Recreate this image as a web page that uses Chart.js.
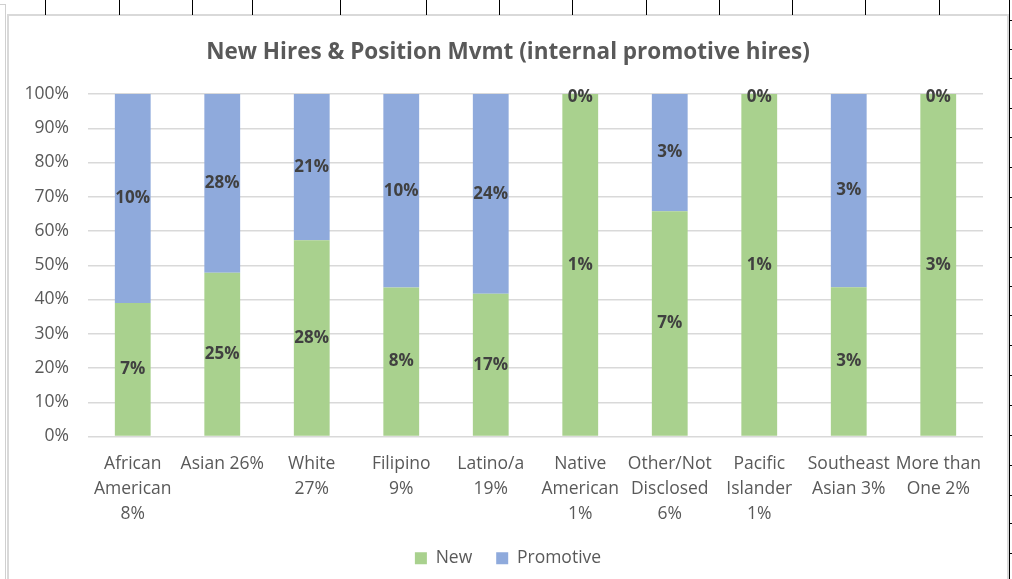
<!DOCTYPE html>
<html>
<head>
<meta charset="utf-8">
<script src="https://cdn.jsdelivr.net/npm/chart.js@4"></script>
<style>
  html, body { margin: 0; padding: 0; background: #fff; overflow: hidden; }
  body { width: 1012px; height: 579px; position: relative; }
  .cell { position: absolute; top: 0; width: 1px; height: 15px; background: #000; }
  .rowtick { position: absolute; left: 1010px; width: 2px; height: 1px; background: #000; }
  #frame { position: absolute; left: 7px; top: 14px; width: 998px; height: 600px;
           border: 2px solid #d9d9d9; background: #fff; }
  #edgeRight { position: absolute; left: 1009px; top: 0; width: 1px; height: 579px; background: #000; }
  #edgeLeft { position: absolute; left: 5px; top: 4px; width: 1px; height: 575px; background: #d0d0d0; }
  #edgeLeftTop { position: absolute; left: 0; top: 4px; width: 6px; height: 1px; background: #d0d0d0; }
  canvas { display: block; }
</style>
</head>
<body>
<div id="edgeLeftTop"></div>
<div id="edgeLeft"></div>
<div id="edgeRight"></div>
<div id="frame"><canvas id="chart" width="998" height="563"></canvas></div>
<script>
// chart data
const categories = [
  ["African", "American", "8%"],
  ["Asian 26%"],
  ["White", "27%"],
  ["Filipino", "9%"],
  ["Latino/a", "19%"],
  ["Native", "American", "1%"],
  ["Other/Not", "Disclosed", "6%"],
  ["Pacific", "Islander", "1%"],
  ["Southeast", "Asian 3%"],
  ["More than", "One 2%"],
];
// share of each bar (100% stacked)
const newShare = [39.0, 47.8, 57.3, 43.5, 41.7, 100, 65.8, 100, 43.6, 100];
const promotiveShare = [61.0, 52.2, 42.7, 56.5, 58.3, 0, 34.2, 0, 56.4, 0];
// data labels printed on the bars
const newLabels = ["7%", "25%", "28%", "8%", "17%", "1%", "7%", "1%", "3%", "3%"];
const promotiveLabels = ["10%", "28%", "21%", "10%", "24%", "0%", "3%", "0%", "3%", "0%"];

// spreadsheet cell lines around the chart object
const columnLines = [45, 119, 192, 252, 340, 426, 499, 572, 646, 719, 792, 865, 939];
const rowLines = [20, 49, 78, 108, 137, 167, 197, 227, 257, 286, 315, 345, 375, 405, 435, 465, 495, 523, 553];
columnLines.forEach((x) => {
  const d = document.createElement("div");
  d.className = "cell";
  d.style.left = x + "px";
  document.body.appendChild(d);
});
rowLines.forEach((y) => {
  const d = document.createElement("div");
  d.className = "rowtick";
  d.style.top = y + "px";
  document.body.appendChild(d);
});

const FONT = "'Open Sans', 'Noto Sans', sans-serif";

// draws the value labels centred in each segment
const barLabels = {
  id: "barLabels",
  afterDatasetsDraw(chart) {
    const ctx = chart.ctx;
    ctx.save();
    ctx.font = "bold 17px " + FONT;
    ctx.fillStyle = "#404040";
    ctx.textAlign = "center";
    ctx.textBaseline = "middle";
    chart.data.datasets.forEach((ds, di) => {
      chart.getDatasetMeta(di).data.forEach((bar, i) => {
        // empty segments: excel nudges the label just inside the top
        const y = Math.abs(bar.base - bar.y) < 1 ? bar.y + 3 : (bar.y + bar.base) / 2;
        ctx.fillText(ds.valueLabels[i], bar.x, y);
      });
    });
    ctx.restore();
  },
};

new Chart(document.getElementById("chart"), {
  type: "bar",
  data: {
    labels: categories,
    datasets: [
      {
        label: "New",
        data: newShare,
        valueLabels: newLabels,
        backgroundColor: "#a9d18e",
        barPercentage: 0.4,
        categoryPercentage: 1.0,
      },
      {
        label: "Promotive",
        data: promotiveShare,
        valueLabels: promotiveLabels,
        backgroundColor: "#8faadc",
        barPercentage: 0.4,
        categoryPercentage: 1.0,
      },
    ],
  },
  options: {
    responsive: false,
    animation: false,
    devicePixelRatio: 1,
    layout: { padding: { left: 0, right: 0, top: 0, bottom: 2 } },
    plugins: {
      title: {
        display: true,
        text: "New Hires & Position Mvmt (internal promotive hires)",
        color: "#595959",
        font: { family: FONT, size: 22.5, weight: "bold" },
        padding: { top: 23, bottom: 28 },
      },
      legend: {
        position: "bottom",
        labels: {
          color: "#595959",
          font: { family: FONT, size: 17.5 },
          boxWidth: 12,
          boxHeight: 12,
          padding: 24,
        },
      },
      tooltip: { enabled: false },
    },
    scales: {
      x: {
        stacked: true,
        grid: { display: false },
        border: { display: false },
        ticks: {
          color: "#595959",
          font: { family: FONT, size: 17.5, lineHeight: 1.43 },
          autoSkip: false,
          maxRotation: 0,
          padding: 7,
        },
        afterFit(scale) { scale.height = 89; },
      },
      y: {
        stacked: true,
        min: 0,
        max: 100,
        grid: { color: "#d9d9d9", lineWidth: 1.5, drawTicks: false },
        border: { display: false },
        ticks: {
          stepSize: 10,
          color: "#595959",
          font: { family: FONT, size: 17.5 },
          padding: 19,
          callback: (v) => v + "%",
        },
        afterFit(scale) { scale.width = 79; },
      },
      yPad: {
        position: "right",
        display: true,
        grid: { display: false },
        border: { display: false },
        ticks: { display: false },
        afterFit(scale) { scale.width = 24; },
      },
    },
  },
  plugins: [barLabels],
});
</script>
</body>
</html>
